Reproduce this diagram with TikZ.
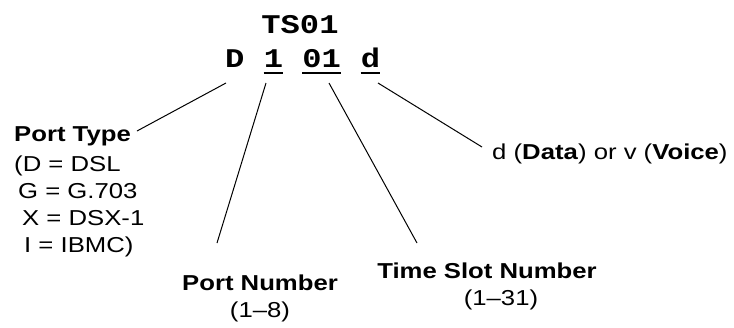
\documentclass[tikz,border=0pt]{standalone}
\usepackage{fontspec}
\setmainfont{Liberation Sans}[FakeStretch=1.19]
\newfontfamily\codefont{Liberation Mono}[FakeStretch=1.19]
\begin{document}
\begin{tikzpicture}[x=1pt,y=-1pt,
  code/.style={inner sep=0pt, anchor=base west, font=\codefont\bfseries\fontsize{27}{30}\selectfont},
  lbl/.style={inner sep=0pt, font=\fontsize{21.6}{26.7}\selectfont},
  conn/.style={draw=black, line width=1pt},
  uline/.style={draw=black, line width=1.6pt}]
\useasboundingbox (0,0) rectangle (734,327);
\fill[white] (0,0) rectangle (734,327);
% code
\node[code, anchor=base] (ts) at (300,33) {TS01};
\node[code] (cD) at (225,67) {D};
\node[code] (c1) at (263.6,67) {1};
\node[code] (c01) at (302.1,67) {01};
\node[code] (cd) at (360.7,67) {d};
\draw[uline] ([yshift=-6pt]c1.base west) -- ([yshift=-6pt]c1.base east);
\draw[uline] ([yshift=-6pt]c01.base west) -- ([yshift=-6pt]c01.base east);
\draw[uline] ([yshift=-6pt]cd.base west) -- ([yshift=-6pt]cd.base east);
% labels (multi-line nodes: base = last line's baseline)
\node[lbl, anchor=base west] (ptype) at (14,141) {\textbf{Port Type}};
\node[lbl, anchor=base west, align=left] (plist) at (14,252) {(D = DSL\\\hspace*{4pt}G = G.703\\\hspace*{8pt}X = DSX-1\\\hspace*{10pt}I = IBMC)};
\node[lbl, anchor=base, align=center] (pnum) at (260,317) {\textbf{Port Number}\\(1–8)};
\node[lbl, anchor=base, align=center] (tsn) at (487,305) {\textbf{Time Slot Number}\\\hspace*{28pt}(1–31)};
\node[lbl, anchor=base west] (dv) at (492,159) {d (\textbf{Data}) or v (\textbf{Voice})};
% connector ends
\coordinate (aD) at (226,83);
\coordinate (a1) at (266,83);
\coordinate (a01) at (329,83);
\coordinate (ad) at (378,83);
\coordinate (bD) at (137,131);
\coordinate (b1) at (217,243);
\coordinate (b01) at (417,243);
\coordinate (bd) at (482,147);
\draw[conn] (aD) -- (bD);
\draw[conn] (a1) -- (b1);
\draw[conn] (a01) -- (b01);
\draw[conn] (ad) -- (bd);
\end{tikzpicture}
\end{document}
